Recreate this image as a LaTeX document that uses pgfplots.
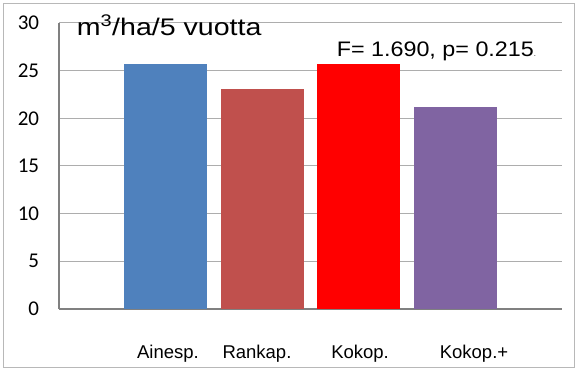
\documentclass[border=0pt]{standalone}
\usepackage{pgfplots}
\pgfplotsset{compat=1.18}
\usepackage{fontspec}
\setmainfont{Liberation Sans}
\newfontfamily\calibri{Carlito}
\newfontfamily\titlefont[FakeStretch=1.19]{Liberation Sans}
\newfontfamily\ffont[FakeStretch=1.11]{Liberation Sans}
\definecolor{cblue}{HTML}{4F81BD}
\definecolor{cred}{HTML}{C0504D}
\definecolor{cbright}{HTML}{FF0000}
\definecolor{cpurple}{HTML}{8064A2}
\begin{document}
\begin{tikzpicture}[x=1pt,y=1pt]
\path[use as bounding box] (0,0) rectangle (580,371);
\draw[color=black!28, line width=1pt] (3,3) rectangle (574,367);
\begin{axis}[
  at={(59pt,62pt)}, anchor=south west,
  scale only axis, width=503pt, height=286pt,
  xmin=-1.1036, xmax=4.1088, ymin=0, ymax=30,
  ytick={0,5,...,30},
  ymajorgrids, major grid style={color=black!32, line width=1pt},
  axis lines*=left,
  axis line style={color=black!50, line width=1.6pt},
  major tick length=0pt,
  xtick={0.026,0.948,2.016,3.197},
  xticklabels={Ainesp.,Rankap.,Kokop.,Kokop.+},
  xticklabel style={font=\fontsize{18.5}{20}\selectfont, anchor=base, yshift=-50pt, inner sep=0pt},
  yticklabel style={font=\calibri\fontsize{21}{24}\selectfont, anchor=east, inner sep=0pt, xshift=-19.7pt},
  /pgf/number format/assume math mode=true,
  ybar, bar width=0.86, bar shift=0pt,
  clip=false,
]
\addplot[fill=cblue, draw=none] coordinates {(0,25.7)};
\addplot[fill=cred, draw=none] coordinates {(1,23.1)};
\addplot[fill=cbright, draw=none] coordinates {(2,25.7)};
\addplot[fill=cpurple, draw=none] coordinates {(3,21.2)};
\node[anchor=base west, inner sep=0pt, font=\titlefont\fontsize{24}{26}\selectfont] at (rel axis cs:0.035,0.9566) {m\textsuperscript{3}/ha/5 vuotta};
\node[anchor=base west, inner sep=0pt, font=\ffont\fontsize{21}{24}\selectfont] at (rel axis cs:0.552,0.883) {F= 1.690, p= 0.215{\fontsize{7}{7}\selectfont .}};
\end{axis}
\end{tikzpicture}
\end{document}
